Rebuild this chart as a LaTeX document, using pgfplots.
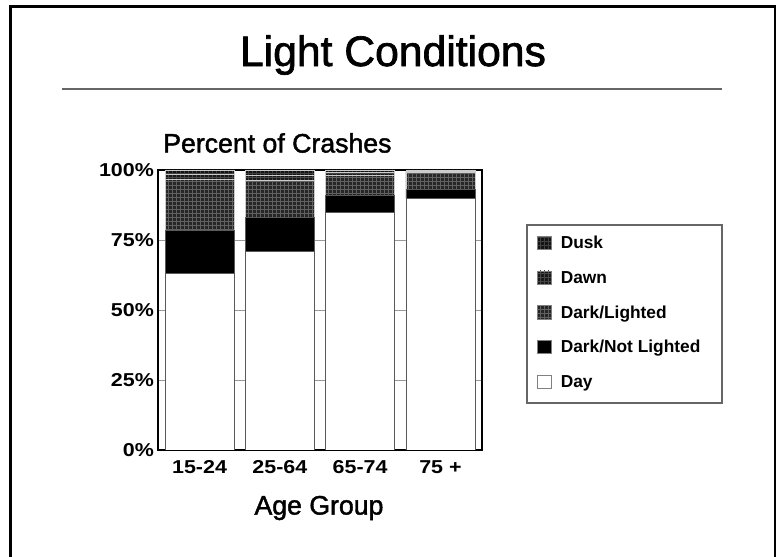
\documentclass[border=0pt]{standalone}
\usepackage{fontspec}
\setmainfont{Liberation Sans}
\newfontfamily\widefont[FakeStretch=1.15]{Liberation Sans}
\newfontfamily\headfont[FakeBold=1.6]{Liberation Sans}
\usepackage{pgfplots}
\pgfplotsset{compat=1.18}
\usetikzlibrary{patterns}
\begin{document}
\begin{tikzpicture}
\useasboundingbox (0pt,0pt) rectangle (582pt,417.75pt);
% frame
\draw[line width=2.25pt] (7.875pt,0pt) -- (7.875pt,412.9pt) -- (581.25pt,412.9pt) -- (581.25pt,0pt);
% title
\node[font=\headfont\fontsize{32}{36}\selectfont] at (294.75pt,376.5pt) {Light Conditions};
\draw[gray!80!black, line width=1pt] (46.5pt,351pt) -- (541.5pt,351pt);
\node[anchor=west, font=\headfont\fontsize{20}{24}\selectfont, inner sep=0pt] at (122.25pt,310.5pt) {Percent of Crashes};
\node[font=\headfont\fontsize{20}{24}\selectfont] at (239.25pt,36.75pt) {Age Group};
% legend box
\draw[gray!80!black, line width=0.9pt] (395.25pt,115.5pt) rectangle (541.5pt,249pt);
\begin{axis}[
  at={(118.5pt,80.25pt)}, anchor=south west,
  scale only axis, width=243pt, height=210pt,
  ybar stacked, bar width=51.75pt,
  xmin=-0.517, xmax=3.517, ymin=0, ymax=100,
  xtick={0,1,2,3}, xticklabels={15-24,25-64,65-74,75 +},
  ytick={0,25,50,75,100}, yticklabels={0\%,25\%,50\%,75\%,100\%},
  major tick length=0pt,
  ticklabel style={font=\widefont\bfseries\fontsize{14}{16}\selectfont},
  yticklabel style={xshift=0.5pt},
  xticklabel style={yshift=-4pt, text height=10pt, text depth=0pt},
  ymajorgrids, grid style={gray!80, line width=0.6pt},
  axis line style={line width=1.3pt},
  reverse legend,
  legend style={at={(1.1698,0.8)}, anchor=north west, draw=none, fill=none,
    inner sep=0pt, font=\bfseries\fontsize{13}{15}\selectfont,
    cells={anchor=west}, nodes={minimum height=26pt, inner sep=1pt}},
  legend image code/.code={\draw[#1,draw=gray] (0pt,-4.5pt) rectangle (10pt,5.5pt);},
]
\addplot[fill=white, draw=gray!70!black, line width=0.6pt] coordinates {(0,63.2) (1,70.8) (2,84.9) (3,89.8)};
\addplot[fill=black, draw=gray!70!black, line width=0.6pt] coordinates {(0,15.3) (1,12.3) (2,6.2) (3,3.3)};
\addplot[fill=black!85, draw=gray!40, line width=0.6pt, postaction={pattern=grid, pattern color=black!62}] coordinates {(0,18.3) (1,13.3) (2,7.1) (3,5.9)};
\addplot[fill=black!90, draw=gray!40, line width=0.6pt, postaction={pattern=grid, pattern color=black!72}] coordinates {(0,1.6) (1,1.8) (2,1.0) (3,0.5)};
\addplot[fill=black!92, draw=gray!40, line width=0.6pt, postaction={pattern=grid, pattern color=black!75}] coordinates {(0,1.6) (1,1.8) (2,0.8) (3,0.5)};
\legend{\hspace*{6pt}Day,\hspace*{6pt}Dark/Not Lighted,\hspace*{6pt}Dark/Lighted,\hspace*{6pt}Dawn,\hspace*{6pt}Dusk}
\end{axis}
\end{tikzpicture}
\end{document}
